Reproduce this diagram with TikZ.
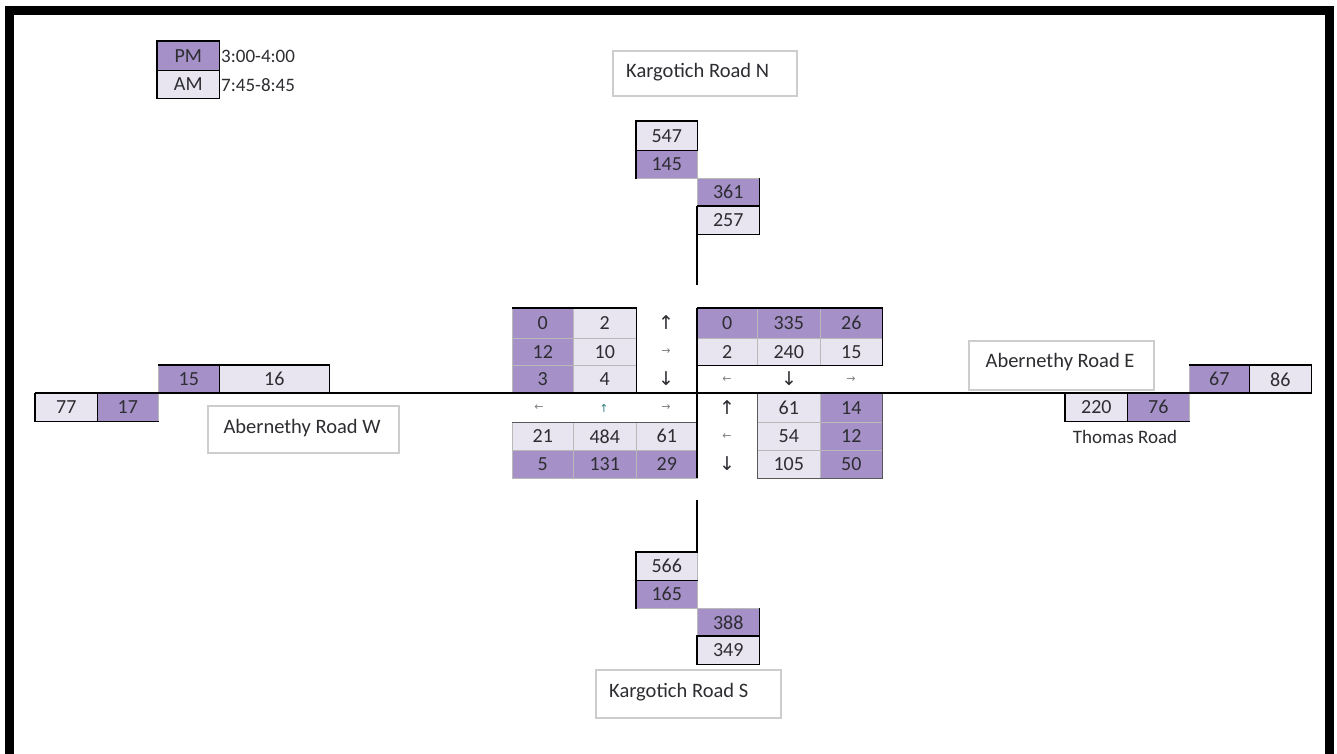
\documentclass[tikz,border=0pt]{standalone}
\usepackage{fontspec}
\setmainfont{Carlito}
\newfontfamily\arrowfont{DejaVu Sans}
\definecolor{pdark}{RGB}{165,145,200}
\definecolor{plight}{RGB}{232,228,240}
\definecolor{txt}{RGB}{45,45,50}
\definecolor{boxline}{RGB}{205,205,205}
\tikzset{
  cellbox/.style={anchor=north west, inner sep=0pt, draw=gray!55, line width=0.6pt,
     text=txt, font=\fontsize{20}{20}\selectfont},
  dk/.style={cellbox, fill=pdark},
  lt/.style={cellbox, fill=plight},
  blk/.style={black, line width=1.6pt},
  road/.style={black, line width=1.6pt},
  label/.style={draw=boxline, line width=1.5pt, fill=white, text=txt,
     inner sep=0pt, anchor=north west},
  ltext/.style={inner sep=0pt, text=txt, font=\fontsize{20.5}{20.5}\selectfont},
  arr/.style={text=txt, font=\arrowfont\fontsize{19}{19}\selectfont, inner sep=0pt},
  sarr/.style={text=gray, font=\arrowfont\fontsize{11}{11}\selectfont, inner sep=0pt},
}
% \cl{name}{style}{x1}{y1}{x2}{y2}{text}
\newcommand{\cl}[7]{\pgfmathsetmacro{\cw}{#5-#3}\pgfmathsetmacro{\ch}{#6-#4}%
  \node[#2, minimum width=\cw pt, minimum height=\ch pt] (#1) at (#3,#4) {#7};}
\begin{document}
\begin{tikzpicture}[x=1pt,y=-1pt]
\useasboundingbox (0,0) rectangle (1337,753);
\fill[white] (0,0) rectangle (1337,753);
% frame
\draw[black, line width=9pt] (9,10) rectangle (1329,775);

% legend
\cl{lpm}{dk}{157}{41}{219}{70}{PM}
\cl{lam}{lt}{157}{70}{219}{98}{AM}
\draw[blk] (lpm.north west) rectangle (lam.south east);
\draw[blk] (lpm.south west) -- (lpm.south east);
\node[anchor=west, inner sep=0pt, text=txt, font=\fontsize{19}{19}\selectfont] (lpmt) at (221,56) {3:00-4:00};
\node[anchor=west, inner sep=0pt, text=txt, font=\fontsize{19}{19}\selectfont] (lamt) at (221,85) {7:45-8:45};

% road labels
\node[label, minimum width=184pt, minimum height=45pt] (kn) at (612,50) {};
\node[ltext, anchor=west] (knt) at (626,72) {Kargotich Road N};
\node[label, minimum width=185pt, minimum height=48pt] (ks) at (595,669) {};
\node[ltext, anchor=west] (kst) at (609,692) {Kargotich Road S};
\node[label, minimum width=191pt, minimum height=47pt] (aw) at (207,405) {};
\node[ltext] (awt) at (302,428) {Abernethy Road W};
\node[label, minimum width=185pt, minimum height=49pt] (ae) at (968,340) {};
\node[ltext] (aet) at (1060,362) {Abernethy Road E};
\node[inner sep=0pt, text=txt, font=\fontsize{19}{19}\selectfont] (thom) at (1125,437) {Thomas Road};

% north cells
\cl{n1}{lt}{636}{121}{697}{150}{547}
\cl{n2}{dk}{636}{150}{697}{178}{145}
\cl{n3}{dk}{697}{178}{759}{206}{361}
\cl{n4}{lt}{697}{206}{759}{234}{257}
\draw[blk] (n1.north west) rectangle (n1.south east);
\draw[blk] (n2.north west) -- (n2.south west);
\draw[blk] (n3.north east) -- (n4.south east) -- (n4.south west);
\draw[blk] (n4.north west) -- (n4.north east);

% south cells
\cl{s1}{lt}{636}{552}{697}{580}{566}
\cl{s2}{dk}{636}{580}{697}{608}{165}
\cl{s3}{dk}{697}{608}{759}{636}{388}
\cl{s4}{lt}{697}{636}{759}{664}{349}
\draw[blk] (s1.north east) -- (s1.north west) -- (s2.south west);
\draw[blk] (s1.south west) -- (s1.south east);
\draw[blk] (s3.north east) -- (s4.south east) -- (s4.south west) -- (s4.north west) -- (s4.north east);

% west cells
\cl{w1}{lt}{35}{393}{97}{421}{77}
\cl{w2}{dk}{97}{393}{158}{421}{17}
\cl{w3}{dk}{158}{365}{219}{393}{15}
\cl{w4}{lt}{219}{365}{329}{393}{16}
\draw[blk] (w1.north west) -- (w1.south west) -- (w2.south east);
\draw[blk] (w1.north east) -- (w1.south east);
\draw[blk] (w3.north west) -- (w4.north east) -- (w4.south east);
\draw[blk] (w3.north east) -- (w3.south east);

% east cells
\cl{e1}{lt}{1065}{393}{1127}{421}{220}
\cl{e2}{dk}{1127}{393}{1189}{421}{76}
\cl{e3}{dk}{1189}{365}{1249}{393}{67}
\cl{e4}{lt}{1249}{365}{1311}{393}{86}
\draw[blk] (e1.north west) -- (e1.south west) -- (e2.south east);
\draw[blk] (e1.north east) -- (e1.south east);
\draw[blk] (e3.north west) -- (e4.north east) -- (e4.south east);
\draw[blk] (e3.north east) -- (e3.south east);

% upper-left group
\cl{a11}{dk}{512}{308}{573}{338}{0}
\cl{a12}{lt}{573}{308}{636}{338}{2}
\cl{a21}{dk}{512}{338}{573}{365}{12}
\cl{a22}{lt}{573}{338}{636}{365}{10}
\cl{a31}{dk}{512}{365}{573}{393}{3}
\cl{a32}{lt}{573}{365}{636}{393}{4}
\draw[blk] (a11.north west) -- (a12.north east) -- (a32.south east);
\node[arr] (ua1) at (666,323) {↑};
\node[sarr] (ua2) at (666,352) {→};
\node[arr] (ua3) at (666,379) {↓};

% upper-right group
\cl{b11}{dk}{697}{308}{757}{338}{0}
\cl{b12}{dk}{757}{308}{820}{338}{335}
\cl{b13}{dk}{820}{308}{882}{338}{26}
\cl{b21}{lt}{697}{338}{757}{365}{2}
\cl{b22}{lt}{757}{338}{820}{365}{240}
\cl{b23}{lt}{820}{338}{882}{365}{15}
\draw[blk] (b11.north west) -- (b13.north east) -- (b23.south east) -- (b21.south west);
\node[sarr] (ub1) at (727,380) {←};
\node[arr] (ub2) at (789,379) {↓};
\node[sarr] (ub3) at (851,380) {→};

% lower-left group
\node[sarr] (la1) at (539,408) {←};
\node[sarr, text=teal!60!gray] (la2) at (604,408) {↑};
\node[sarr] (la3) at (666,408) {→};
\cl{c11}{lt}{512}{422}{573}{450}{21}
\cl{c12}{lt}{573}{422}{636}{450}{484}
\cl{c13}{lt}{636}{422}{697}{450}{61}
\cl{c21}{dk}{512}{450}{573}{478}{5}
\cl{c22}{dk}{573}{450}{636}{478}{131}
\cl{c23}{dk}{636}{450}{697}{478}{29}
\draw[line width=1pt, gray!70!black] (c11.north west) -- (c13.north east);

% lower-right group
\node[arr] (lb1) at (727,408) {↑};
\node[sarr] (lb2) at (727,437) {←};
\node[arr] (lb3) at (727,464) {↓};
\cl{d11}{lt}{757}{393}{820}{422}{61}
\cl{d12}{dk}{820}{393}{882}{422}{14}
\cl{d21}{lt}{757}{422}{820}{450}{54}
\cl{d22}{dk}{820}{422}{882}{450}{12}
\cl{d31}{lt}{757}{450}{820}{478}{105}
\cl{d32}{dk}{820}{450}{882}{478}{50}
\draw[line width=1pt, gray!70!black] (d11.north west) -- (d31.south west) -- (d32.south east) -- (d12.north east);

% roads
\coordinate (rw) at (35,393);
\coordinate (re) at (1311,393);
\draw[road] (rw) -- (re);
\coordinate (rn1) at (697,206);
\coordinate (rn2) at (697,285);
\draw[road] (rn1) -- (rn2);
\coordinate (rc1) at (697,308);
\coordinate (rc2) at (697,478);
\draw[road] (rc1) -- (rc2);
\coordinate (rs1) at (697,500);
\coordinate (rs2) at (697,552);
\draw[road] (rs1) -- (rs2);
\end{tikzpicture}
\end{document}
